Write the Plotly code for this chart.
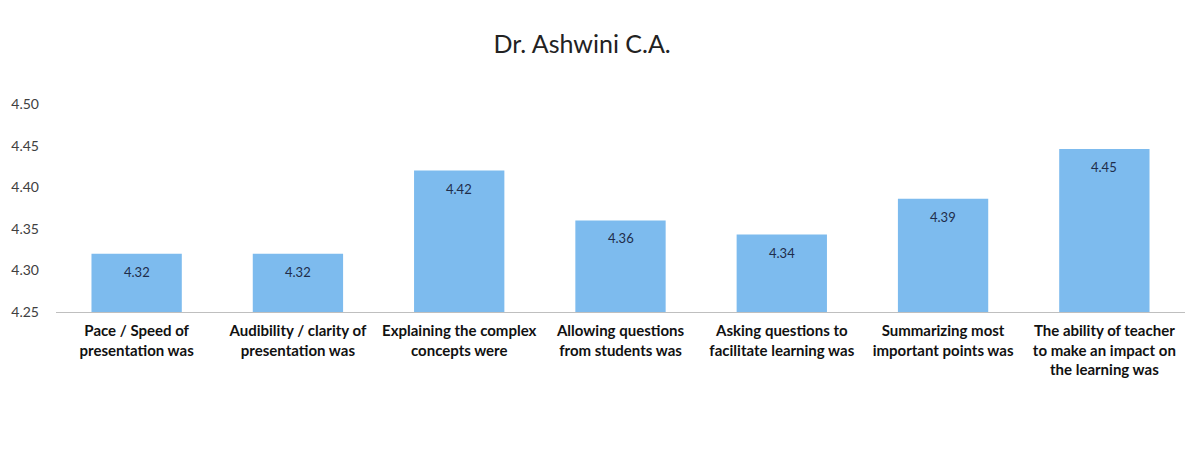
import plotly.graph_objects as go

categories = [
    'Pace / Speed of<br>presentation was',
    'Audibility / clarity of<br>presentation was',
    'Explaining the complex<br>concepts were',
    'Allowing questions<br>from students was',
    'Asking questions to<br>facilitate learning was',
    'Summarizing most<br>important points was',
    'The ability of teacher<br>to make an impact on<br>the learning was',
]
scores = [4.32, 4.32, 4.42, 4.36, 4.343, 4.386, 4.446]
y_ticks = [4.25, 4.30, 4.35, 4.40, 4.45, 4.50]

FONT = 'Lato, Open Sans, sans-serif'

fig = go.Figure()
fig.add_trace(
    go.Bar(
        x=categories,
        y=scores,
        width=0.56,
        marker=dict(color='#7dbbee', line=dict(width=0)),
        hoverinfo='x+y',
    )
)
# value labels sit a little below the top of each bar
for cat, v in zip(categories, scores):
    fig.add_annotation(
        x=cat,
        y=v,
        text=f'{v:.2f}',
        showarrow=False,
        yshift=-18,
        font=dict(family=FONT, size=13, color='#1f2d4a'),
    )

fig.update_layout(
    width=1201,
    height=470,
    margin=dict(l=48, r=24, t=96, b=166),
    paper_bgcolor='white',
    plot_bgcolor='white',
    showlegend=False,
    title=dict(
        text='Dr. Ashwini C.A.',
        x=0.478,
        xanchor='center',
        y=0.922,
        yanchor='middle',
        font=dict(family=FONT, size=25, color='#222222'),
    ),
    font=dict(family=FONT),
)
fig.update_xaxes(
    showgrid=False,
    showline=True,
    linecolor='#bfbfbf',
    linewidth=1,
    tickfont=dict(family=FONT, size=15, color='#111111', weight='bold'),
    tickangle=0,
    ticks='',
    ticklabelstandoff=5,
    automargin=False,
)
fig.update_yaxes(
    range=[4.25, 4.50],
    tickvals=y_ticks,
    ticktext=[f'{v:.2f}' for v in y_ticks],
    showgrid=False,
    zeroline=False,
    showline=False,
    ticks='',
    ticklabelstandoff=16,
    automargin=False,
    tickfont=dict(family=FONT, size=14, color='#404040'),
)
fig.write_html('out.html')
